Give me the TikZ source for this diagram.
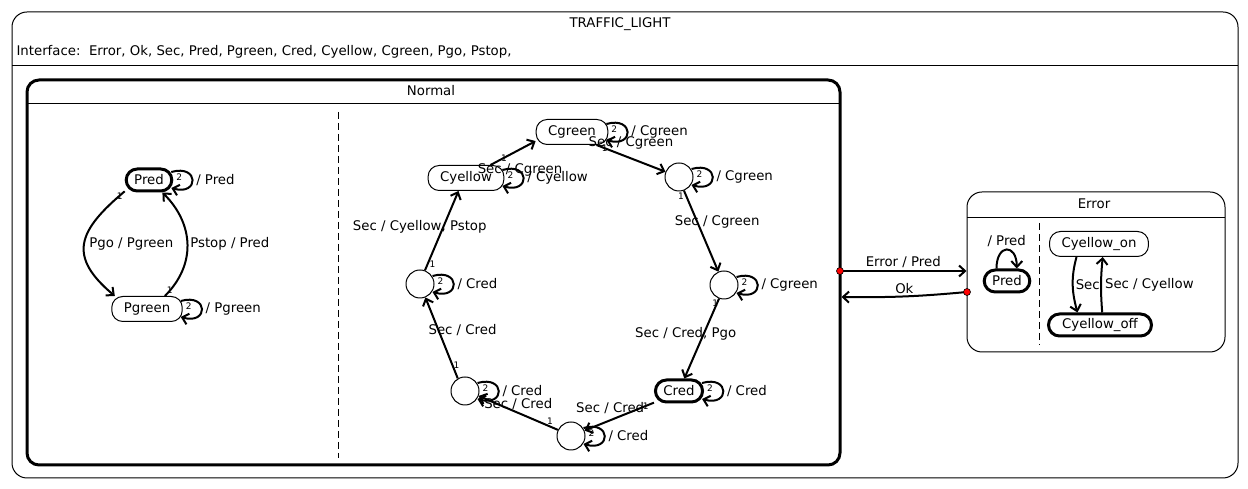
\documentclass[tikz,border=0pt]{standalone}
\usepackage{fontspec}
\setmainfont{DejaVu Sans}
\usetikzlibrary{shapes.misc,arrows.meta}

\begin{document}
\begin{tikzpicture}[x=1pt, y=1pt,
		font=\fontsize{13.3}{15}\selectfont,
		box/.style={draw, line width=1pt, rounded corners=15pt, inner sep=0pt},
		state/.style={draw, line width=1pt, rounded corners=11pt, minimum height=25pt, inner xsep=12pt, inner ysep=0pt},
		init/.style={state, line width=3pt, inner xsep=8pt, minimum height=22pt},
		pt/.style={draw, line width=1pt, circle, minimum size=28pt, inner sep=0pt},
		trans/.style={line width=2pt, -{Straight Barb[length=6pt, width=11pt]}},
		lbl/.style={inner sep=2pt, behind path},
		num/.style={font=\fontsize{9}{9}\selectfont, inner sep=1pt},
		reddot/.style={circle, draw=black, fill=red, line width=0.6pt, minimum size=7pt, inner sep=0pt},
		region/.style={line width=1pt, dash pattern=on 7pt off 4pt}]
			\useasboundingbox (0,0) rectangle (1248,489);
			\node[box, minimum width=1226pt, minimum height=466pt] (traffic) at (625,244) {};
			\node (traffictitle) at (620,465) {TRAFFIC\_LIGHT};
			\node[anchor=west] (iface) at (13,437) {Interface:\ \ Error, Ok, Sec, Pred, Pgreen, Cred, Cyellow, Cgreen, Pgo, Pstop,};
			\draw[line width=1pt] (12,423) -- (1238,423);
			\node[box, line width=3pt, rounded corners=12pt, minimum width=813pt, minimum height=385pt] (normal) at (433.5,216.5) {};
			\node (normaltitle) at (431,398) {Normal};
			\draw[line width=1pt] (27,385) -- (840,385);
			\draw[region] (338,377) -- (338,31);
			\node[box, minimum width=258pt, minimum height=160pt] (error) at (1096,217) {};
			\node (errortitle) at (1094,285) {Error};
			\draw[line width=1pt] (967,271) -- (1225,271);
			\draw[region] (1039,266) -- (1039,144);

			\node[init] (pred) at (149,309) {Pred};
			\node[state] (pgreen) at (147,180) {Pgreen};
			\node[state] (cgreen) at (572,357) {Cgreen};
			\node[state] (cyellow) at (466,311) {Cyellow};
			\node[pt] (g1) at (679,312) {};
			\node[pt] (g2) at (724,204) {};
			\node[init] (cred) at (679,98) {Cred};
			\node[pt] (r1) at (571,53) {};
			\node[pt] (r2) at (465,98) {};
			\node[pt] (r3) at (420,205) {};
			\node[init] (epred) at (1007,208) {Pred};
			\node[state] (on) at (1099,245) {Cyellow\_on};
			\node[init, minimum width=103pt] (off) at (1100,164) {Cyellow\_off};

			\foreach \st/\tx in {pred/Pred, pgreen/Pgreen, cgreen/Cgreen, cyellow/Cyellow, g1/Cgreen, g2/Cgreen, cred/Cred, r1/Cred, r2/Cred, r3/Cred}
				\draw[trans] ([shift={(-2,8)}]\st.east) .. controls +(28,8) and +(28,-8) .. node[lbl, right=1pt] {/ \tx}
					([shift={(-2,-8)}]\st.east) node[num] at ([shift={(6,3)}]\st.east) {2};

			\draw[trans] (pred.205) to[out=220, in=140, looseness=1.5] node[lbl, right=2pt] {Pgo / Pgreen}
				node[num, pos=0, below left=0pt] {1} (pgreen.158);
			\draw[trans] (pgreen.36) to[out=45, in=-45, looseness=1.1] node[lbl, right] {Pstop / Pred}
				node[num, pos=0, above right=0pt] {1} (pred.-43);

			\draw[trans] (cred.205) -- node[lbl, midway, xshift=-9pt, yshift=9pt] {Sec / Cred} node[num, pos=0.12] {1} (r1);
			\draw[trans] (r1.155) -- node[lbl, midway, above=0pt] {Sec / Cred} node[num, pos=0.1, above] {1} (r2.-20);
			\draw[trans] (r2.120) -- node[lbl, midway, xshift=21pt, yshift=8pt] {Sec / Cred} node[num, pos=0.16, right=-1pt] {1} (r3);
			\draw[trans] (r3.70) -- node[lbl, midway, xshift=-22pt, yshift=4pt] {Sec / Cyellow, Pstop} node[num, pos=0.08, right] {1} (cyellow.240);
			\draw[trans] (cyellow.28) -- node[lbl, midway, xshift=7pt, yshift=-17pt] {Sec / Cgreen} node[num, pos=0.3] {1} (cgreen.194);
			\draw[trans] (cgreen.-28) -- node[lbl, midway, above=6pt] {Sec / Cgreen} node[num, pos=0.12] {1} (g1);
			\draw[trans] (g1.-70) -- node[lbl, midway, xshift=16pt, yshift=9pt] {Sec / Cgreen} node[num, pos=0, below=0pt, xshift=-3pt] {1} (g2);
			\draw[trans] (g2.-110) -- node[lbl, midway, xshift=-16pt, yshift=5pt] {Sec / Cred, Pgo} node[num, pos=0, below left=-1pt] {1} (cred.67);

			\draw[trans] (epred.130) .. controls +(0,25) and +(0,25) .. node[lbl, above=0pt] {/ Pred} (epred.52);
			\draw[trans] (on.-150) to[out=-105, in=105] node[lbl, right=0pt] {Sec} (off.151);
			\draw[trans] (off.80) to[bend left=5] node[lbl, right=1pt] {Sec / Cyellow} (on.-74);

			\coordinate (errexit) at (840,218);
			\coordinate (okexit) at (967,197);
			\draw[trans] (errexit) -- node[lbl, above] {Error / Pred} (errexit -| error.west);
			\draw[trans] (okexit) to[bend left=3] node[lbl, above] {Ok} ([yshift=-5pt]okexit -| normal.east);
			\node[reddot] (errdot) at (errexit) {};
			\node[reddot] (okdot) at (okexit) {};
		\end{tikzpicture}
\end{document}
